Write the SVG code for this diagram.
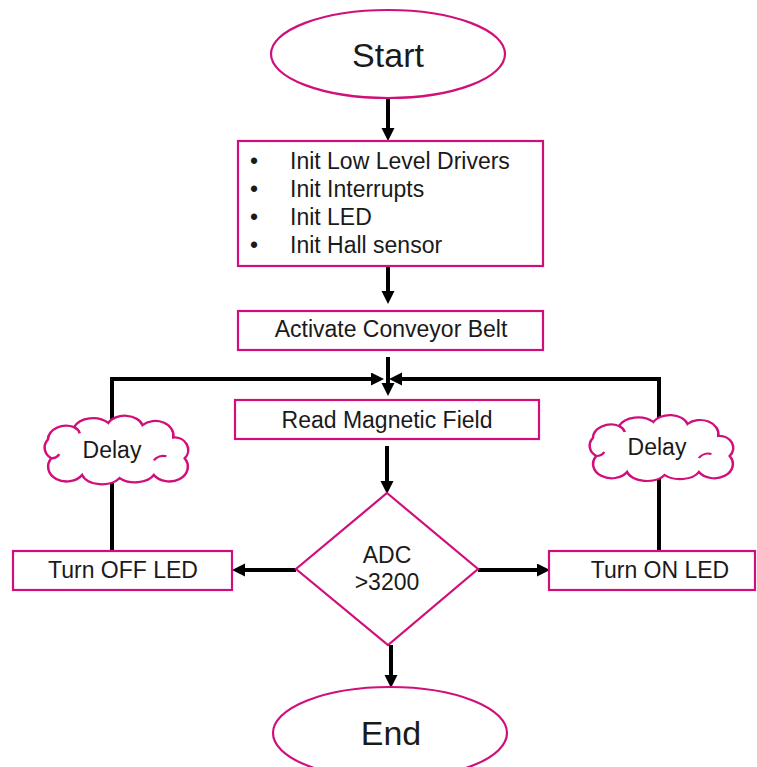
<svg xmlns="http://www.w3.org/2000/svg" width="757" height="767" viewBox="0 0 757 767">
<style>
.shape{fill:#fff;stroke:#d10f7a;stroke-width:2.2}
.curl{fill:none;stroke:#d10f7a;stroke-width:2.2}
.t{font-family:"Liberation Sans",Arial,sans-serif;font-size:23px;fill:#1a1a1a;text-anchor:middle}
.tl{font-family:"Liberation Sans",Arial,sans-serif;font-size:23px;fill:#1a1a1a}
.big{font-size:34px}
.conn{fill:none;stroke:#000;stroke-width:4}
</style>
<defs>
<marker id="ah" markerWidth="14" markerHeight="14" refX="6" refY="6.5" orient="auto" markerUnits="userSpaceOnUse">
<path d="M0,0 L13,6.5 L0,13 Z" fill="#000"/>
</marker>
<g id="cloud">
<path class="shape" d="M-55,8 A12 12 0 0 1 -58,-10 A16 14 0 0 1 -35,-22 A18 14 0 0 1 -5,-26 A16 12 0 0 1 25,-24 A16 14 0 0 1 52,-12 A12 12 0 0 1 62,8 A16 14 0 0 1 35,24 A18 12 0 0 1 5,27 A18 12 0 0 1 -28,24 A16 14 0 0 1 -55,8 Z"/>
<path class="curl" d="M-55,8 A8 8 0 0 0 -48,4"/>
<path class="curl" d="M35,10 A10 10 0 0 1 46,6"/>
<path class="curl" d="M-35,-22 A10 10 0 0 1 -30,-16"/>
</g>
</defs>
<rect width="757" height="767" fill="#fff"/>
<g id="connectors">
<path class="conn" d="M388,99 V134" marker-end="url(#ah)"/>
<path class="conn" d="M388,266 V297" marker-end="url(#ah)"/>
<path class="conn" d="M388,357 V389" marker-end="url(#ah)"/>
<path class="conn" d="M112,551 V379 H377" marker-end="url(#ah)"/>
<path class="conn" d="M659,551 V379 H396" marker-end="url(#ah)"/>
<path class="conn" d="M387,446 V487" marker-end="url(#ah)"/>
<path class="conn" d="M296,570 H239" marker-end="url(#ah)"/>
<path class="conn" d="M478,570 H543" marker-end="url(#ah)"/>
<path class="conn" d="M391,645 V681" marker-end="url(#ah)"/>
</g>
<g id="start">
<ellipse class="shape" cx="388" cy="54" rx="117" ry="44"/>
<text class="t big" x="388" y="67">Start</text>
</g>
<g id="init">
<rect class="shape" x="238" y="141" width="305" height="125"/>
<text class="tl" x="250" y="169">•</text>
<text class="tl" x="290" y="169">Init Low Level Drivers</text>
<text class="tl" x="250" y="197">•</text>
<text class="tl" x="290" y="197">Init Interrupts</text>
<text class="tl" x="250" y="225">•</text>
<text class="tl" x="290" y="225">Init LED</text>
<text class="tl" x="250" y="253">•</text>
<text class="tl" x="290" y="253">Init Hall sensor</text>
</g>
<g id="activate">
<rect class="shape" x="238" y="311" width="305" height="39"/>
<text class="t" x="391" y="337">Activate Conveyor Belt</text>
</g>
<g id="read">
<rect class="shape" x="235" y="400" width="304" height="39"/>
<text class="t" x="387" y="428">Read Magnetic Field</text>
</g>
<g id="decision">
<polygon class="shape" points="387,493 478,569 388,645 296,569"/>
<text class="t" x="387" y="563">ADC</text>
<text class="t" x="387" y="590">&gt;3200</text>
</g>
<g id="turn-off">
<rect class="shape" x="13" y="551" width="219" height="39"/>
<text class="t" x="123" y="578">Turn OFF LED</text>
</g>
<g id="turn-on">
<rect class="shape" x="549" y="551" width="206" height="39"/>
<text class="t" x="660" y="578">Turn ON LED</text>
</g>
<g id="delay-left">
<use href="#cloud" transform="translate(114,450) scale(1.14,1.04)"/>
<text class="t" x="112" y="458">Delay</text>
</g>
<g id="delay-right">
<use href="#cloud" transform="translate(659,448) scale(1.14,1.0)"/>
<text class="t" x="657" y="455">Delay</text>
</g>
<g id="end">
<ellipse class="shape" cx="390" cy="733" rx="117" ry="46"/>
<text class="t big" x="391" y="745">End</text>
</g>
</svg>
